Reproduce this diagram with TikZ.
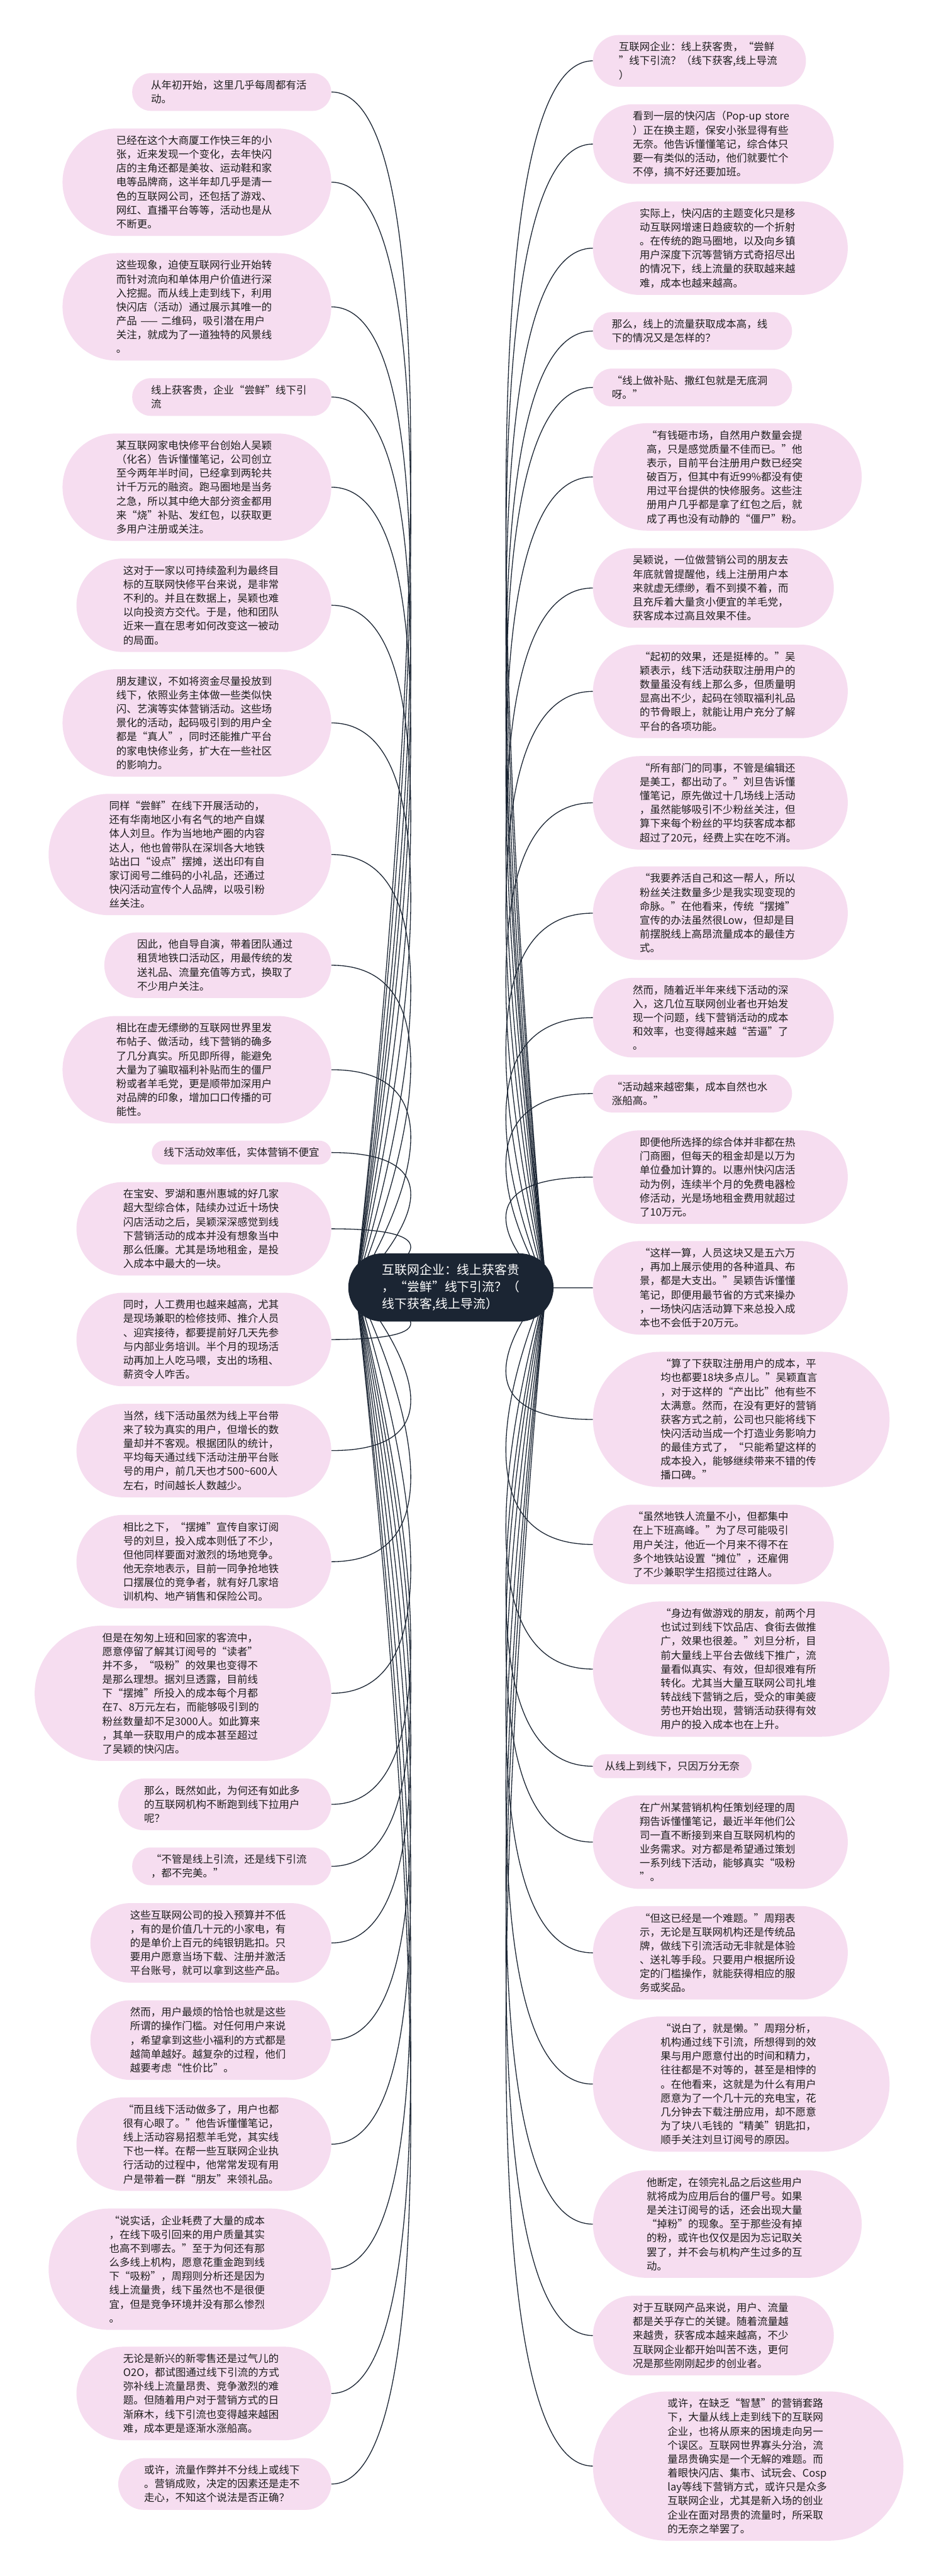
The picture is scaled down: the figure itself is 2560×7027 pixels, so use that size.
\documentclass[tikz,border=0pt]{standalone}
\usepackage{fontspec}
\setmainfont{Noto Sans CJK SC}
\usetikzlibrary{backgrounds}
\definecolor{bubfill}{RGB}{246,221,240}
\definecolor{navy}{RGB}{27,37,51}
\definecolor{ink}{RGB}{30,30,30}
\tikzset{
  bub/.style={fill=bubfill, text=ink, align=left, inner ysep=0pt,
    font=\fontsize{11.32pt}{15.2pt}\selectfont},
  conn/.style={draw=navy, line width=0.9pt},
  rootnode/.style={fill=navy, text=white, align=left, inner ysep=0pt,
    inner xsep=37.2pt, minimum height=74.4pt, rounded corners=37.1pt,
    font=\fontsize{13.6pt}{18.4pt}\selectfont},
  tw/.style={text width=176pt}
}
\newcommand\bubL[5]{%
  \pgfmathsetmacro\bubh{(38*#3+27)*0.4}%
  \pgfmathsetmacro\bubr{\bubh/2-0.02}%
  \node[bub,#4,anchor=east,minimum height=\bubh pt,inner xsep=\bubr pt,rounded corners=\bubr pt] (#1) at (904,#2) {#5};%
  \begin{scope}[on background layer]\draw[conn] (#1.east) .. controls +(445,0) and +(0,0) .. (hubL);\end{scope}%
}
\newcommand\bubR[5]{%
  \pgfmathsetmacro\bubh{(38*#3+27)*0.4}%
  \pgfmathsetmacro\bubr{\bubh/2-0.02}%
  \node[bub,#4,anchor=west,minimum height=\bubh pt,inner xsep=\bubr pt,rounded corners=\bubr pt] (#1) at (1617,#2) {#5};%
  \begin{scope}[on background layer]\draw[conn] (#1.west) .. controls +(-445,0) and +(0,0) .. (hubR);\end{scope}%
}
\begin{document}
\begin{tikzpicture}[x=0.4pt,y=-0.4pt]
\useasboundingbox (0,0) rectangle (2560,7027);
\begin{scope}[on background layer]\fill[white] (0,0) rectangle (2560,7027);\end{scope}
\node[rootnode] (root) at (1230,3512) {互联网企业：线上获客贵\\，“尝鲜”线下引流？（\\线下获客,线上导流）};
\coordinate (hubL) at (970,3512);
\coordinate (hubR) at (1490,3512);

% left column
\bubL{L1}{251}{2}{tw}{从年初开始，这里几乎每周都有活\\动。}
\bubL{L2}{497}{7}{tw}{已经在这个大商厦工作快三年的小\\张，近来发现一个变化，去年快闪\\店的主角还都是美妆、运动鞋和家\\电等品牌商，这半年却几乎是清一\\色的互联网公司，还包括了游戏、\\网红、直播平台等等，活动也是从\\不断更。}
\bubL{L3}{837}{7}{tw}{这些现象，迫使互联网行业开始转\\而针对流向和单体用户价值进行深\\入挖掘。而从线上走到线下，利用\\快闪店（活动）通过展示其唯一的\\产品~——~二维码，吸引潜在用户\\关注，就成为了一道独特的风景线\\。}
\bubL{L4}{1083}{2}{tw}{线上获客贵，企业“尝鲜”线下引\\流}
\bubL{L5}{1329}{7}{tw}{某互联网家电快修平台创始人吴颖\\（化名）告诉懂懂笔记，公司创立\\至今两年半时间，已经拿到两轮共\\计千万元的融资。跑马圈地是当务\\之急，所以其中绝大部分资金都用\\来“烧”补贴、发红包，以获取更\\多用户注册或关注。}
\bubL{L6}{1651}{6}{tw}{这对于一家以可持续盈利为最终目\\标的互联网快修平台来说，是非常\\不利的。并且在数据上，吴颖也难\\以向投资方交代。于是，他和团队\\近来一直在思考如何改变这一被动\\的局面。}
\bubL{L7}{1972}{7}{tw}{朋友建议，不如将资金尽量投放到\\线下，依照业务主体做一些类似快\\闪、艺演等实体营销活动。这些场\\景化的活动，起码吸引到的用户全\\都是“真人”，同时还能推广平台\\的家电快修业务，扩大在一些社区\\的影响力。}
\bubL{L8}{2331}{8}{tw}{同样“尝鲜”在线下开展活动的，\\还有华南地区小有名气的地产自媒\\体人刘旦。作为当地地产圈的内容\\达人，他也曾带队在深圳各大地铁\\站出口“设点”摆摊，送出印有自\\家订阅号二维码的小礼品，还通过\\快闪活动宣传个人品牌，以吸引粉\\丝关注。}
\bubL{L9}{2633}{4}{tw}{因此，他自导自演，带着团队通过\\租赁地铁口活动区，用最传统的发\\送礼品、流量充值等方式，换取了\\不少用户关注。}
\bubL{L10}{2918}{7}{tw}{相比在虚无缥缈的互联网世界里发\\布帖子、做活动，线下营销的确多\\了几分真实。所见即所得，能避免\\大量为了骗取福利补贴而生的僵尸\\粉或者羊毛党，更是顺带加深用户\\对品牌的印象，增加口口传播的可\\能性。}
\bubL{L11}{3144}{1}{}{线下活动效率低，实体营销不便宜}
\bubL{L12}{3352}{6}{tw}{在宝安、罗湖和惠州惠城的好几家\\超大型综合体，陆续办过近十场快\\闪店活动之后，吴颖深深感觉到线\\下营销活动的成本并没有想象当中\\那么低廉。尤其是场地租金，是投\\入成本中最大的一块。}
\bubL{L13}{3654}{6}{tw}{同时，人工费用也越来越高，尤其\\是现场兼职的检修技师、推介人员\\、迎宾接待，都要提前好几天先参\\与内部业务培训。半个月的现场活\\动再加上人吃马喂，支出的场租、\\薪资令人咋舌。}
\bubL{L14}{3957}{6}{tw}{当然，线下活动虽然为线上平台带\\来了较为真实的用户，但增长的数\\量却并不客观。根据团队的统计，\\平均每天通过线下活动注册平台账\\号的用户，前几天也才500\textasciitilde 600人\\左右，时间越长人数越少。}
\bubL{L15}{4260}{6}{tw}{相比之下，“摆摊”宣传自家订阅\\号的刘旦，投入成本则低了不少，\\但他同样要面对激烈的场地竞争。\\他无奈地表示，目前一同争抢地铁\\口摆展位的竞争者，就有好几家培\\训机构、地产销售和保险公司。}
\bubL{L16}{4619}{9}{tw}{但是在匆匆上班和回家的客流中，\\愿意停留了解其订阅号的“读者”\\并不多，“吸粉”的效果也变得不\\是那么理想。据刘旦透露，目前线\\下“摆摊”所投入的成本每个月都\\在7、8万元左右，而能够吸引到的\\粉丝数量却不足3000人。如此算来\\，其单一获取用户的成本甚至超过\\了吴颖的快闪店。}
\bubL{L17}{4922}{3}{tw}{那么，既然如此，为何还有如此多\\的互联网机构不断跑到线下拉用户\\呢？}
\bubL{L18}{5091}{2}{tw}{“不管是线上引流，还是线下引流\\，都不完美。”}
\bubL{L19}{5300}{5}{tw}{这些互联网公司的投入预算并不低\\，有的是价值几十元的小家电，有\\的是单价上百元的纯银钥匙扣。只\\要用户愿意当场下载、注册并激活\\平台账号，就可以拿到这些产品。}
\bubL{L20}{5565}{5}{tw}{然而，用户最烦的恰恰也就是这些\\所谓的操作门槛。对任何用户来说\\，希望拿到这些小福利的方式都是\\越简单越好。越复杂的过程，他们\\越要考虑“性价比”。}
\bubL{L21}{5849}{6}{tw}{“而且线下活动做多了，用户也都\\很有心眼了。”他告诉懂懂笔记，\\线上活动容易招惹羊毛党，其实线\\下也一样。在帮一些互联网企业执\\行活动的过程中，他常常发现有用\\户是带着一群“朋友”来领礼品。}
\bubL{L22}{6190}{8}{tw}{“说实话，企业耗费了大量的成本\\，在线下吸引回来的用户质量其实\\也高不到哪去。”至于为何还有那\\么多线上机构，愿意花重金跑到线\\下“吸粉”，周翔则分析还是因为\\线上流量贵，线下虽然也不是很便\\宜，但是竞争环境并没有那么惨烈\\。}
\bubL{L23}{6529}{6}{tw}{无论是新兴的新零售还是过气儿的\\O2O，都试图通过线下引流的方式\\弥补线上流量昂贵、竞争激烈的难\\题。但随着用户对于营销方式的日\\渐麻木，线下引流也变得越来越困\\难，成本更是逐渐水涨船高。}
\bubL{L24}{6776}{3}{tw}{或许，流量作弊并不分线上或线下\\。营销成败，决定的因素还是走不\\走心，不知这个说法是否正确？}

% right column
\bubR{R1}{166}{3}{tw}{互联网企业：线上获客贵，“尝鲜\\”线下引流？（线下获客,线上导流\\）}
\bubR{R2}{393}{5}{tw}{\mbox{看到一层的快闪店（Pop-up~store}\\）正在换主题，保安小张显得有些\\无奈。他告诉懂懂笔记，综合体只\\要一有类似的活动，他们就要忙个\\不停，搞不好还要加班。}
\bubR{R3}{677}{6}{tw}{实际上，快闪店的主题变化只是移\\动互联网增速日趋疲软的一个折射\\。在传统的跑马圈地，以及向乡镇\\用户深度下沉等营销方式奇招尽出\\的情况下，线上流量的获取越来越\\难，成本也越来越高。}
\bubR{R4}{903}{2}{tw}{那么，线上的流量获取成本高，线\\下的情况又是怎样的？}
\bubR{R5}{1057}{2}{tw}{“线上做补贴、撒红包就是无底洞\\呀。”}
\bubR{R6}{1301}{7}{tw}{“有钱砸市场，自然用户数量会提\\高，只是感觉质量不佳而已。”他\\表示，目前平台注册用户数已经突\\破百万，但其中有近99\%都没有使\\用过平台提供的快修服务。这些注\\册用户几乎都是拿了红包之后，就\\成了再也没有动静的“僵尸”粉。}
\bubR{R7}{1604}{5}{tw}{吴颖说，一位做营销公司的朋友去\\年底就曾提醒他，线上注册用户本\\来就虚无缥缈，看不到摸不着，而\\且充斥着大量贪小便宜的羊毛党，\\获客成本过高且效果不佳。}
\bubR{R8}{1886}{6}{tw}{“起初的效果，还是挺棒的。”吴\\颖表示，线下活动获取注册用户的\\数量虽没有线上那么多，但质量明\\显高出不少，起码在领取福利礼品\\的节骨眼上，就能让用户充分了解\\平台的各项功能。}
\bubR{R9}{2190}{6}{tw}{“所有部门的同事，不管是编辑还\\是美工，都出动了。”刘旦告诉懂\\懂笔记，原先做过十几场线上活动\\，虽然能够吸引不少粉丝关注，但\\算下来每个粉丝的平均获客成本都\\超过了20元，经费上实在吃不消。}
\bubR{R10}{2491}{6}{tw}{“我要养活自己和这一帮人，所以\\粉丝关注数量多少是我实现变现的\\命脉。”在他看来，传统“摆摊”\\宣传的办法虽然很Low，但却是目\\前摆脱线上高昂流量成本的最佳方\\式。}
\bubR{R11}{2776}{5}{tw}{然而，随着近半年来线下活动的深\\入，这几位互联网创业者也开始发\\现一个问题，线下营销活动的成本\\和效率，也变得越来越“苦逼”了\\。}
\bubR{R12}{2983}{2}{tw}{“活动越来越密集，成本自然也水\\涨船高。”}
\bubR{R13}{3211}{6}{tw}{即便他所选择的综合体并非都在热\\门商圈，但每天的租金却是以万为\\单位叠加计算的。以惠州快闪店活\\动为例，连续半个月的免费电器检\\修活动，光是场地租金费用就超过\\了10万元。}
\bubR{R14}{3513}{6}{tw}{“这样一算，人员这块又是五六万\\，再加上展示使用的各种道具、布\\景，都是大支出。”吴颖告诉懂懂\\笔记，即便用最节省的方式来操办\\，一场快闪店活动算下来总投入成\\本也不会低于20万元。}
\bubR{R15}{3872}{9}{tw}{“算了下获取注册用户的成本，平\\均也都要18块多点儿。”吴颖直言\\，对于这样的“产出比”他有些不\\太满意。然而，在没有更好的营销\\获客方式之前，公司也只能将线下\\快闪活动当成一个打造业务影响力\\的最佳方式了，“只能希望这样的\\成本投入，能够继续带来不错的传\\播口碑。”}
\bubR{R16}{4213}{5}{tw}{“虽然地铁人流量不小，但都集中\\在上下班高峰。”为了尽可能吸引\\用户关注，他近一个月来不得不在\\多个地铁站设置“摊位”，还雇佣\\了不少兼职学生招揽过往路人。}
\bubR{R17}{4553}{9}{tw}{“身边有做游戏的朋友，前两个月\\也试过到线下饮品店、食街去做推\\广，效果也很差。”刘旦分析，目\\前大量线上平台去做线下推广，流\\量看似真实、有效，但却很难有所\\转化。尤其当大量互联网公司扎堆\\转战线下营销之后，受众的审美疲\\劳也开始出现，营销活动获得有效\\用户的投入成本也在上升。}
\bubR{R18}{4818}{1}{}{从线上到线下，只因万分无奈}
\bubR{R19}{5025}{6}{tw}{在广州某营销机构任策划经理的周\\翔告诉懂懂笔记，最近半年他们公\\司一直不断接到来自互联网机构的\\业务需求。对方都是希望通过策划\\一系列线下活动，能够真实“吸粉\\”。}
\bubR{R20}{5327}{6}{tw}{“但这已经是一个难题。”周翔表\\示，无论是互联网机构还是传统品\\牌，做线下引流活动无非就是体验\\、送礼等手段。只要用户根据所设\\定的门槛操作，就能获得相应的服\\务或奖品。}
\bubR{R21}{5685}{9}{tw}{“说白了，就是懒。”周翔分析，\\机构通过线下引流，所想得到的效\\果与用户愿意付出的时间和精力，\\往往都是不对等的，甚至是相悖的\\。在他看来，这就是为什么有用户\\愿意为了一个几十元的充电宝，花\\几分钟去下载注册应用，却不愿意\\为了块八毛钱的“精美”钥匙扣，\\顺手关注刘旦订阅号的原因。}
\bubR{R22}{6067}{7}{tw}{他断定，在领完礼品之后这些用户\\就将成为应用后台的僵尸号。如果\\是关注订阅号的话，还会出现大量\\“掉粉”的现象。至于那些没有掉\\的粉，或许也仅仅是因为忘记取关\\罢了，并不会与机构产生过多的互\\动。}
\bubR{R23}{6371}{5}{tw}{对于互联网产品来说，用户、流量\\都是关乎存亡的关键。随着流量越\\来越贵，获客成本越来越高，不少\\互联网企业都开始叫苦不迭，更何\\况是那些刚刚起步的创业者。}
\bubR{R24}{6727}{10}{tw}{或许，在缺乏“智慧”的营销套路\\下，大量从线上走到线下的互联网\\企业，也将从原来的困境走向另一\\个误区。互联网世界寡头分治，流\\量昂贵确实是一个无解的难题。而\\着眼快闪店、集市、试玩会、Cosp\\lay等线下营销方式，或许只是众多\\互联网企业，尤其是新入场的创业\\企业在面对昂贵的流量时，所采取\\的无奈之举罢了。}
\end{tikzpicture}
\end{document}
